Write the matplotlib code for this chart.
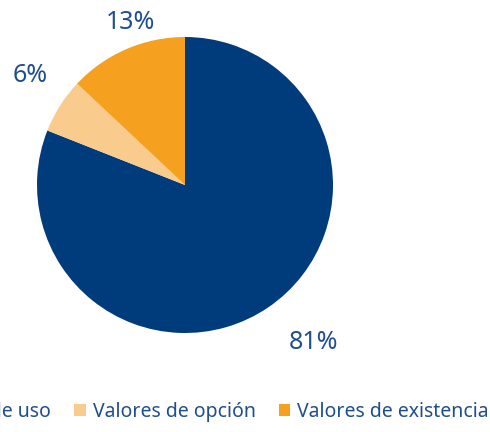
import numpy as np
import matplotlib.pyplot as plt

labels = ['Valores de uso', 'Valores de opción', 'Valores de existencia']
values = [81, 6, 13]
colors = ['#003B7B', '#F9CB8C', '#F5A11F']
label_dist = [1.37, 1.28, 1.16]
label_shift = [5, -3, -5]  # degrees off the slice middle

plt.rcParams['font.family'] = ['Noto Sans', 'DejaVu Sans']
txt_color = '#1F4E8F'

fig = plt.figure(figsize=(4.9, 4.32), dpi=100)
ax = fig.add_axes([37 / 490, 99 / 432, 296 / 490, 296 / 432])
wedges, _ = ax.pie(values, colors=colors, startangle=90, counterclock=False,
                   radius=1, wedgeprops=dict(linewidth=0))
ax.set_xlim(-1, 1)
ax.set_ylim(-1, 1)
ax.set_aspect('equal')
ax.axis('off')

for w, v, d, s in zip(wedges, values, label_dist, label_shift):
    ang = np.deg2rad((w.theta1 + w.theta2) / 2 + s)
    ax.text(d * np.cos(ang), d * np.sin(ang), f'{v}%', ha='center', va='center',
            fontsize=18, color=txt_color)

fig.legend(wedges, labels, ncol=3, loc='center right', bbox_to_anchor=(0.998, 0.046),
           borderaxespad=0, borderpad=0, frameon=False, fontsize=14,
           labelcolor=txt_color, handlelength=0.6, handleheight=0.6,
           handletextpad=0.36, columnspacing=1.18)

fig.savefig('out.png', dpi=100)
